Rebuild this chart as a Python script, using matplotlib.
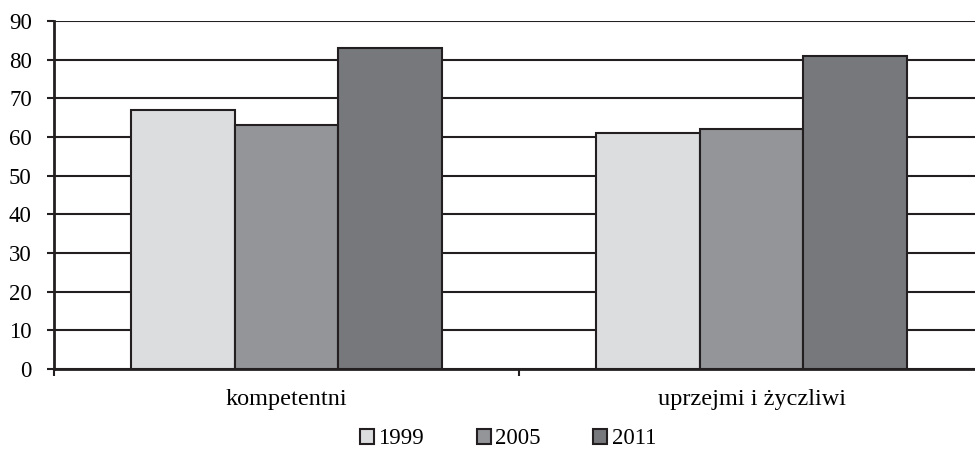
import matplotlib
matplotlib.use("Agg")
import matplotlib.pyplot as plt
from matplotlib.patches import Patch
import numpy as np

categories = ["kompetentni", "uprzejmi i życzliwi"]
years = ["1999", "2005", "2011"]
v1999 = [67, 61]
v2005 = [63, 62]
v2011 = [83, 81]
yticks = [0, 10, 20, 30, 40, 50, 60, 70, 80, 90]

colors = ["#DCDDDF", "#939598", "#77787B"]
edge = "#231F20"

plt.rcParams["font.family"] = ["Liberation Serif", "DejaVu Serif"]

fig = plt.figure(figsize=(9.75, 4.51), dpi=100)
W, H = 975, 451
ax = fig.add_axes([54 / W, (H - 369) / H, (984 - 54) / W, (369 - 21) / H])

bw = 103.5 / 465
x = np.arange(len(categories)) + 0.5
series = [v1999, v2005, v2011]
for i, (vals, c) in enumerate(zip(series, colors)):
    ax.bar(x + (i - 1) * bw, vals, width=bw, color=c, edgecolor=edge,
           linewidth=1.5, zorder=3)

ax.set_xlim(0, 2)
ax.set_ylim(0, 90)
ax.set_yticks(yticks)
ax.yaxis.grid(True, color=edge, linewidth=1.5, zorder=0)
ax.set_axisbelow(True)
ax.set_xticks([0, 1, 2])
ax.set_xticklabels([])
ax.set_xticks(x, minor=True)
ax.set_xticklabels(categories, minor=True)
ax.tick_params(axis="x", which="minor", length=0, pad=14.5, labelsize=17.5)
ax.tick_params(axis="x", which="major", length=5, width=1.5, color=edge)
ax.tick_params(axis="y", length=5, width=1.5, color=edge, labelsize=16.5, pad=11)
for s in ["top", "right"]:
    ax.spines[s].set_visible(False)
for s in ["left", "bottom"]:
    ax.spines[s].set_linewidth(2)
    ax.spines[s].set_color(edge)
    ax.spines[s].set_zorder(4)

handles = [Patch(facecolor=c, edgecolor=edge, linewidth=1.5) for c in colors]
fig.legend(handles, years, loc="center", bbox_to_anchor=(508 / W, 1 - 439 / H),
           ncol=3, frameon=False, fontsize=16.5, handlelength=0.6, handleheight=0.6,
           handletextpad=0.2, columnspacing=2.3)

fig.savefig("out.png", dpi=100)
